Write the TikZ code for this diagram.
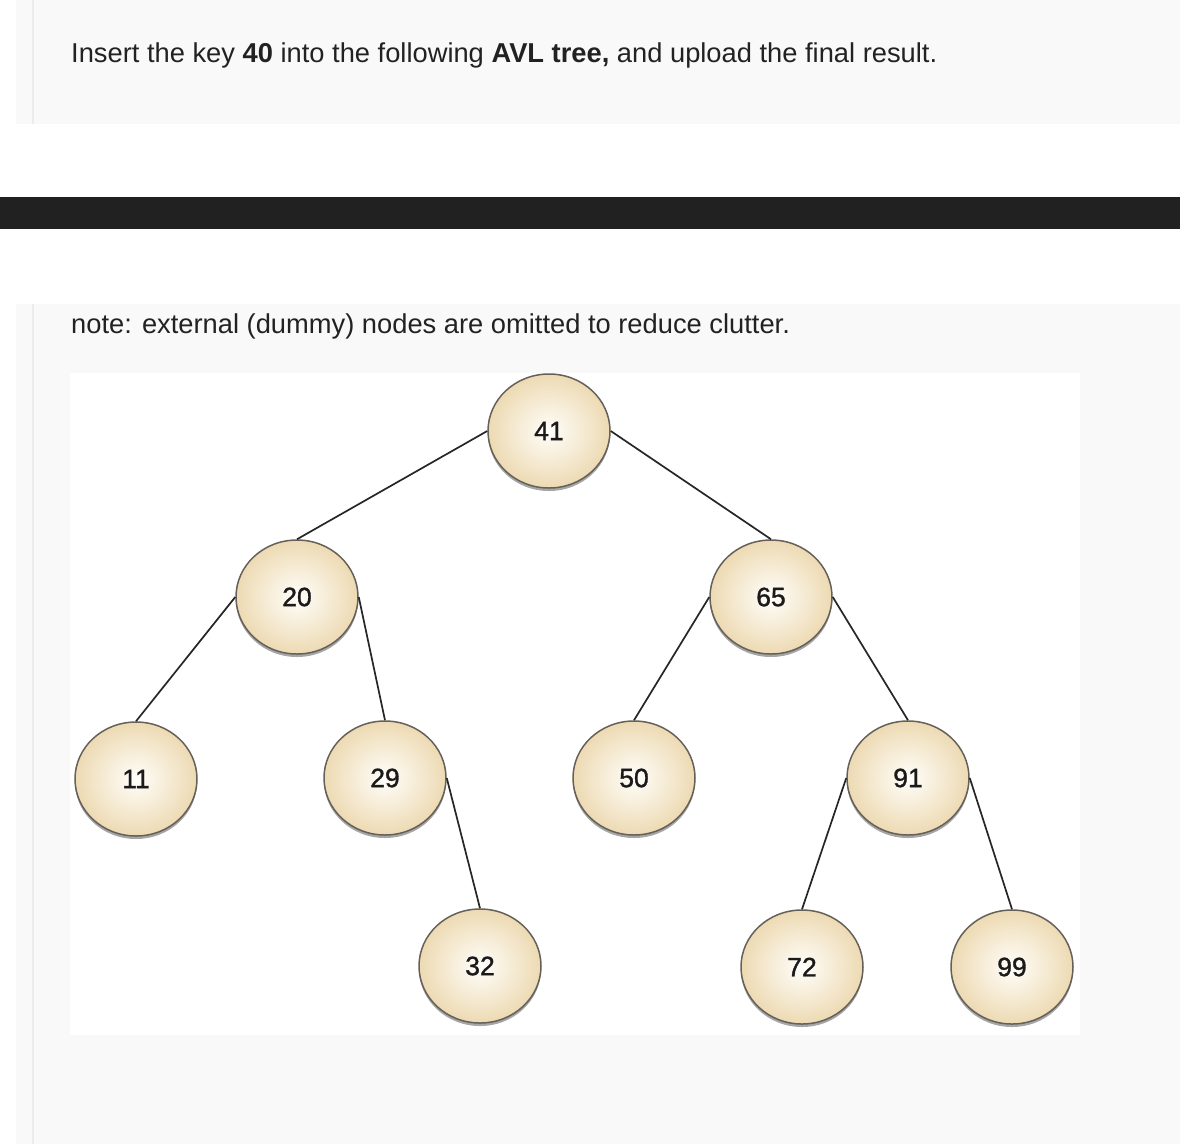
\documentclass[tikz,border=0pt]{standalone}
\usepackage{fontspec}
\setmainfont{Liberation Sans}
\newfontfamily\lblfont{Liberation Sans}[FakeBold=1.2]
\usetikzlibrary{shapes.geometric,shadows}
\definecolor{panelbg}{HTML}{F9F9F9}
\definecolor{panelline}{HTML}{ECECEC}
\definecolor{darkbar}{HTML}{212121}
\definecolor{textc}{HTML}{222222}
\definecolor{lblc}{HTML}{1A1A1A}
\definecolor{nodein}{HTML}{FFFEFA}
\definecolor{nodeout}{HTML}{EDDAB3}
\definecolor{nodeborder}{HTML}{65615A}
\definecolor{edgec}{HTML}{262626}
\begin{document}
\begin{tikzpicture}[x=1pt,y=-1pt,
  treenode/.style={ellipse, draw=nodeborder, line width=1.5pt,
    minimum width=122pt, minimum height=114pt, inner sep=0pt,
    inner color=nodein, outer color=nodeout,
    drop shadow={shadow xshift=0pt, shadow yshift=-3pt, opacity=0.35, fill=black},
    font=\lblfont\fontsize{26.5}{30}\selectfont, text=lblc},
  treeedge/.style={draw=edgec, line width=1.7pt},
  prose/.style={anchor=base west, inner sep=0pt, text=textc, font=\fontsize{27.3}{33}\selectfont}]
\useasboundingbox (0,0) rectangle (1180,1144);
\fill[white] (0,0) rectangle (1180,1144);
% panels
\fill[panelbg] (16,0) rectangle (1180,124);
\fill[panelline] (32,0) rectangle (34,124);
\fill[darkbar] (0,197) rectangle (1180,229);
\fill[panelbg] (16,304) rectangle (1180,1144);
\fill[panelline] (32,304) rectangle (34,1144);
\fill[white] (70,373) rectangle (1080,1035);
% texts
\node[prose] (q) at (71,62) {Insert the key \textbf{40} into the following \textbf{AVL tree,} and upload the final result.};
\node[prose] (note) at (71,333) {note: external (dummy) nodes are omitted to reduce clutter.};
% tree nodes
\node[treenode] (n41) at (549,431) {41};
\node[treenode] (n20) at (297,597) {20};
\node[treenode] (n65) at (771,597) {65};
\node[treenode] (n11) at (136,779) {11};
\node[treenode] (n29) at (385,778) {29};
\node[treenode] (n50) at (634,778) {50};
\node[treenode] (n91) at (908,778) {91};
\node[treenode] (n32) at (480,966) {32};
\node[treenode] (n72) at (802,967) {72};
\node[treenode] (n99) at (1012,967) {99};
% connectors
\draw[treeedge] (n41.west) -- (n20.north);
\draw[treeedge] (n41.east) -- (n65.north);
\draw[treeedge] (n20.west) -- (n11.north);
\draw[treeedge] (n20.east) -- (n29.north);
\draw[treeedge] (n65.west) -- (n50.north);
\draw[treeedge] (n65.east) -- (n91.north);
\draw[treeedge] (n29.east) -- (n32.north);
\draw[treeedge] (n91.west) -- (n72.north);
\draw[treeedge] (n91.east) -- (n99.north);
\end{tikzpicture}
\end{document}
